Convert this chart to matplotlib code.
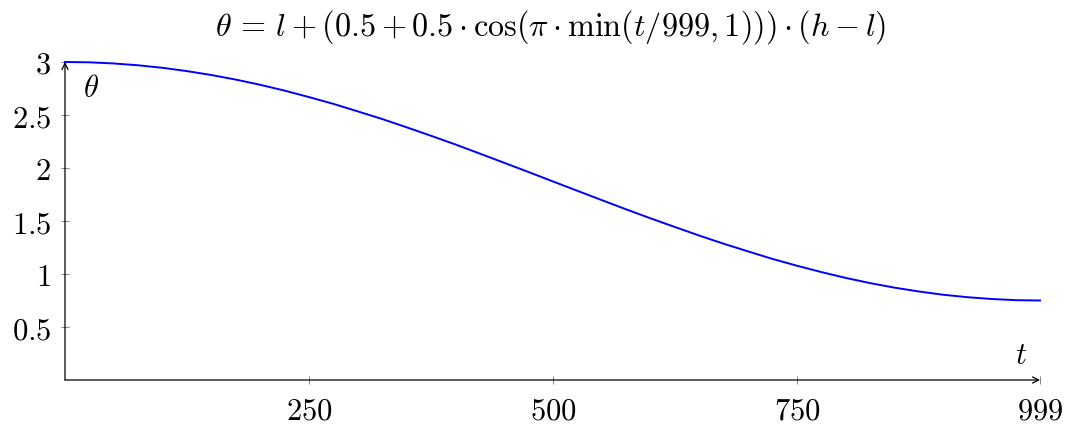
import matplotlib
matplotlib.use("Agg")
import matplotlib.pyplot as plt

plt.rcParams['mathtext.fontset'] = 'cm'
plt.rcParams['font.family'] = ['DejaVu Serif']

# data
t_values = [0, 25, 50, 75, 100, 125, 150, 175, 200, 225, 250, 275, 300, 325, 350, 375,
            400, 425, 450, 475, 500, 525, 550, 575, 600, 625, 650, 675, 700, 725, 750,
            775, 800, 825, 850, 875, 900, 925, 950, 975, 999]
theta_values = [3.000, 2.997, 2.986, 2.969, 2.945, 2.914, 2.877, 2.834, 2.785, 2.730,
                2.669, 2.605, 2.534, 2.462, 2.384, 2.304, 2.222, 2.136, 2.049, 1.962,
                1.873, 1.785, 1.697, 1.610, 1.525, 1.443, 1.362, 1.285, 1.213, 1.142,
                1.078, 1.018, 0.963, 0.914, 0.871, 0.835, 0.804, 0.781, 0.764, 0.753, 0.750]
x_ticks = [250, 500, 750, 999]
y_ticks = [0.5, 1, 1.5, 2, 2.5, 3]
title_text = r'$\theta\,=\,l + (0.5 + 0.5 \cdot \cos(\pi \cdot \min(t/999, 1))) \cdot (h - l)$'

W, H = 1068, 425
fig = plt.figure(figsize=(W / 100, H / 100), dpi=100)
left, right, bottom, top = 65, 1040, 380, 62
ax = fig.add_axes([left / W, (H - bottom) / H, (right - left) / W, (bottom - top) / H])
ax.set_xlim(0, 999)
ax.set_ylim(0, 3)

ax.plot(t_values, theta_values, color='#0000ff', lw=1.4, clip_on=False, zorder=3)

for s in ax.spines.values():
    s.set_visible(False)

ax.annotate('', xy=(999, 0), xytext=(0, 0), xycoords='data',
            arrowprops=dict(arrowstyle='->', lw=0.9, color='black', shrinkA=0, shrinkB=0,
                            mutation_scale=11), annotation_clip=False)
ax.annotate('', xy=(0, 3), xytext=(0, 0), xycoords='data',
            arrowprops=dict(arrowstyle='->', lw=0.9, color='black', shrinkA=0, shrinkB=0,
                            mutation_scale=11), annotation_clip=False)

fs = 22
ax.set_xticks(x_ticks)
ax.set_xticklabels([f'${v}$' for v in x_ticks])
ax.set_yticks(y_ticks)
ax.set_yticklabels([f'${v:g}$' for v in y_ticks])
ax.tick_params(direction='inout', length=6, width=0.5, colors='#555555',
               labelcolor='black', labelsize=fs)
ax.tick_params(axis='y', pad=7)
ax.tick_params(axis='x', pad=8)

ax.text(27, 2.75, r'$\theta$', fontsize=fs, ha='center', va='center')
ax.text(980, 0.23, r'$t$', fontsize=fs, ha='center', va='center')

fig.text(551 / W, 1 - 27 / H, title_text, fontsize=23.2, ha='center', va='center')

fig.savefig('out.png', dpi=100)
